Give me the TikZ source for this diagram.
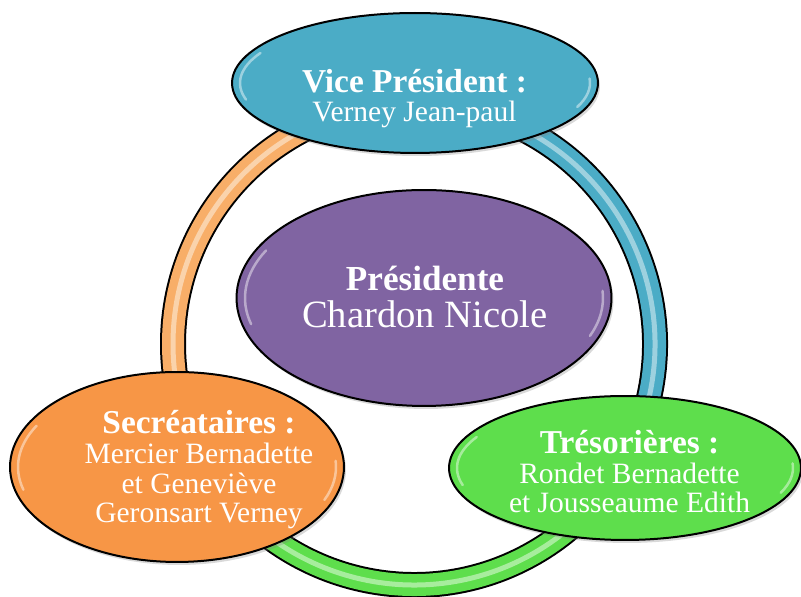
\documentclass[tikz,border=0pt]{standalone}
\usepackage{fontspec}
\setmainfont{Liberation Serif}
\usetikzlibrary{shapes.geometric, shadows}
\definecolor{vpblue}{HTML}{4BACC6}
\definecolor{prpurple}{HTML}{8064A2}
\definecolor{secorange}{HTML}{F79646}
\definecolor{tresgreen}{HTML}{5EDE4C}
\definecolor{ringorange}{HTML}{F8AE68}
\tikzset{
	x=0.02cm, y=0.02cm,
	bubble/.style={ellipse, draw=black, line width=0.04cm, inner sep=0pt,
		drop shadow={opacity=0.3, shadow xshift=0.04cm, shadow yshift=-0.06cm}},
	names/.style={align=center, text=white, anchor=base,
		font=\fontsize{16.8}{17}\selectfont},
	shine/.style={white, line width=0.05cm, opacity=0.45, line cap=round}}
\newcommand\rolename[1]{{\bfseries\fontsize{19}{17}\selectfont #1}}
\newcommand\shine[3]{% node, x radius, y radius
	\draw[shine] ([shift={(195:#2 and #3)}]#1.center) arc[start angle=195, end angle=152, x radius=#2, y radius=#3];
	\draw[shine] ([shift={(-22:#2 and #3)}]#1.center) arc[start angle=-22, end angle=4, x radius=#2, y radius=#3];
}

\begin{document}
\begin{tikzpicture}
	\useasboundingbox (0,0) rectangle (801,597);
	
	% ring
	\coordinate (ringc) at (414,253);
	\foreach \col/\a/\b in {ringorange/90/210, tresgreen/210/330, vpblue/-30/90} {
		\draw[line width=0.52cm] (ringc) ++(\a:241) arc[start angle=\a, end angle=\b, radius=241];
		\draw[\col, line width=0.44cm] (ringc) ++(\a:241) arc[start angle=\a, end angle=\b, radius=241];
		\draw[\col!35!white, line width=0.1cm, opacity=0.7] (ringc) ++(\a:241) arc[start angle=\a, end angle=\b, radius=241];
	}
	
	\node[bubble, fill=vpblue, minimum width=7.32cm, minimum height=2.8cm] (vp) at (415,514) {};
	\node[bubble, fill=prpurple, minimum width=7.5cm, minimum height=4.32cm] (pres) at (424,299) {};
	\node[bubble, fill=secorange, minimum width=6.68cm, minimum height=3.8cm] (sec) at (177,130) {};
	\node[bubble, fill=tresgreen, minimum width=7.04cm, minimum height=2.88cm] (tres) at (625,129) {};
	
	\shine{vp}{175}{64}
	\shine{pres}{179}{101}
	\shine{sec}{159}{88}
	\shine{tres}{168}{66}
	
	\node[names] (vptext) at (414.5,475) {\rolename{Vice Président :}\\Verney Jean-paul};
	\node[names, font=\fontsize{22}{21.5}\selectfont] (prestext) at (425,269)
		{{\bfseries\fontsize{20}{21.5}\selectfont Présidente}\\Chardon Nicole};
	\node[names] (sectext) at (199,74)
		{\rolename{Secréataires :}\\Mercier Bernadette\\et Geneviève\\Geronsart Verney};
	\node[names] (trestext) at (629.5,84)
		{\rolename{Trésorières :}\\Rondet Bernadette\\et Jousseaume Edith};
\end{tikzpicture}
\end{document}
